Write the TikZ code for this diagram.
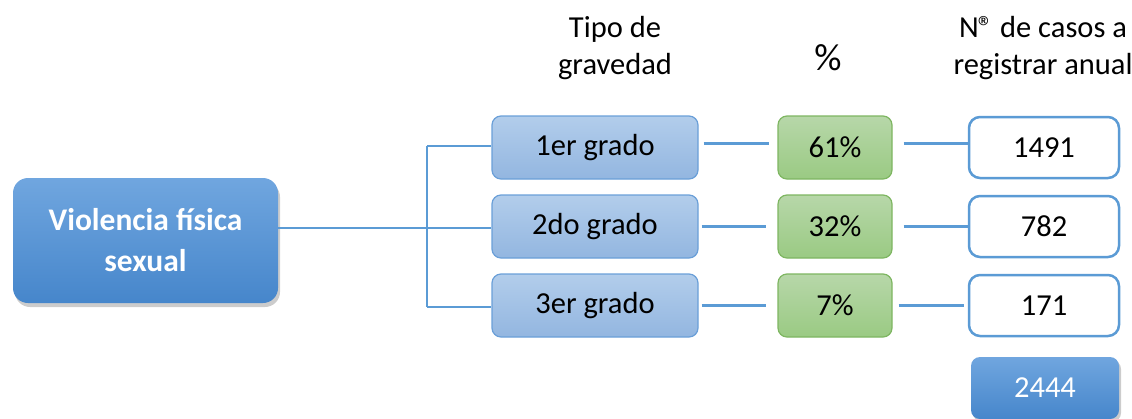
\documentclass[tikz,border=0pt]{standalone}
\usepackage{fontspec}
\setmainfont{Carlito}
\usetikzlibrary{shadows}
\definecolor{conn}{HTML}{5B9BD5}
\definecolor{mainTop}{HTML}{70A6DF}
\definecolor{mainBot}{HTML}{4686CB}
\definecolor{gradeTop}{HTML}{B2CDEB}
\definecolor{gradeBot}{HTML}{93B6E0}
\definecolor{gradeLine}{HTML}{6A9FD8}
\definecolor{pctTop}{HTML}{B7D7A9}
\definecolor{pctBot}{HTML}{9ACA83}
\definecolor{pctLine}{HTML}{7EB661}
\begin{document}
\begin{tikzpicture}[x=1pt,y=-1pt,
  txt/.style={font=\fontsize{30.5}{37}\selectfont, text=black},
  mainbox/.style={rectangle, rounded corners=15pt, top color=mainTop, bottom color=mainBot, draw=none,
    drop shadow={shadow xshift=2pt, shadow yshift=-4pt, opacity=0.4},
    minimum width=265pt, minimum height=125pt, align=center, text=white,
    font=\fontsize{31.5}{41}\selectfont\bfseries},
  gradebox/.style={rectangle, rounded corners=9pt, top color=gradeTop, bottom color=gradeBot, draw=gradeLine, line width=1.2pt,
    minimum width=206pt, minimum height=63pt, txt},
  pctbox/.style={rectangle, rounded corners=9pt, top color=pctTop, bottom color=pctBot, draw=pctLine, line width=1.2pt,
    minimum width=114pt, minimum height=63pt, txt},
  numbox/.style={rectangle, rounded corners=11pt, fill=white, draw=conn, line width=2.5pt,
    minimum width=150pt, minimum height=61pt, txt},
  totalbox/.style={rectangle, rounded corners=9pt, top color=mainTop, bottom color=mainBot, draw=none,
    drop shadow={shadow xshift=2pt, shadow yshift=-3pt, opacity=0.4},
    minimum width=148pt, minimum height=62pt, txt, text=white},
  link/.style={draw=conn, line width=2.5pt},
  head/.style={txt, align=center}
]
\useasboundingbox (0,0) rectangle (1132,418);

% headers
\node[head] (h1) at (615,48) {Tipo de\\gravedad};
\node[head, font=\fontsize{38}{40}\selectfont] (h2) at (828,58) {\%};
\node[head] (h3) at (1043,48) {N\kern-1pt® de casos a\\registrar anual};

% main
\node[mainbox] (main) at (145.5,240.5) {Violencia física\\sexual};

% grade boxes
\node[gradebox] (g1) at (595,147.5) {1er grado};
\node[gradebox] (g2) at (595,226.5) {2do grado};
\node[gradebox] (g3) at (595,305.5) {3er grado};

% pct boxes
\node[pctbox] (p1) at (835,147.5) {61\%};
\node[pctbox] (p2) at (835,226.5) {32\%};
\node[pctbox] (p3) at (835,305.5) {7\%};

% number boxes
\node[numbox] (n1) at (1044,147.5) {1491};
\node[numbox] (n2) at (1044,226.5) {782};
\node[numbox] (n3) at (1044,305.5) {171};

\node[totalbox] (tot) at (1045,388) {2444};

% connectors
\coordinate (j) at (427,228);
\coordinate (jt) at (427,146);
\coordinate (jb) at (427,307);
\draw[link] (main.east |- j) -- (j);
\draw[link] (jt) -- (jb);
\draw[link] (jt) -- (g1.west |- jt);
\draw[link] (j) -- (g2.west |- j);
\draw[link] (jb) -- (g3.west |- jb);

\draw[link] ([xshift=5pt,yshift=4pt]g1.east) -- ([xshift=-8pt,yshift=4pt]p1.west);
\draw[link] ([xshift=3pt]g2.east) -- ([xshift=-11pt]p2.west);
\draw[link] ([xshift=3pt]g3.east) -- ([xshift=-11pt]p3.west);

\draw[link] ([xshift=11pt,yshift=4pt]p1.east) -- ([yshift=4pt]n1.west);
\draw[link] ([xshift=11pt]p2.east) -- (n2.west);
\draw[link] ([xshift=6pt]p3.east) -- ([xshift=-4pt]n3.west);
\end{tikzpicture}
\end{document}
